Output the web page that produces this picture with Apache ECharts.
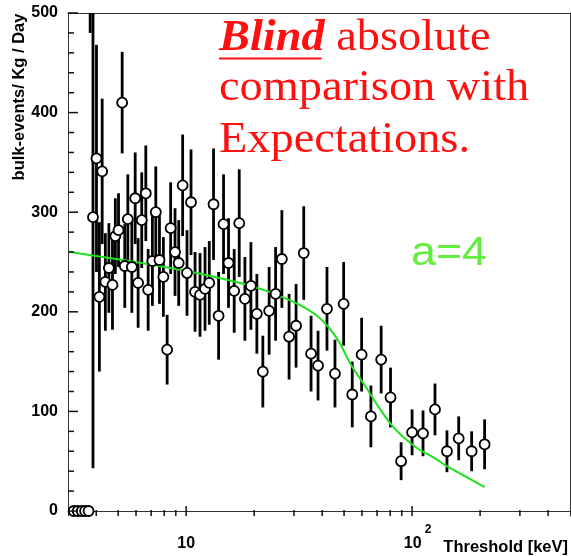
<!DOCTYPE html>
<html>
<head>
<meta charset="utf-8">
<script src="https://cdn.jsdelivr.net/npm/echarts@6/dist/echarts.min.js"></script>
<style>
  html, body { margin: 0; padding: 0; background: #fff; }
  #chart { width: 571px; height: 556px; }
</style>
</head>
<body>
<div id="chart"></div>
<script>
// Measured bulk-event rate per threshold bin (keV), with statistical errors
const thresholds = [3.18, 3.31, 3.45, 3.57, 3.70,
  3.76, 3.87, 4.01, 4.13, 4.25, 4.39, 4.55, 4.72, 4.86, 5.02, 5.21, 5.35, 5.52, 5.75, 5.95,
  6.13, 6.36, 6.63, 6.79, 7.09, 7.34, 7.62, 7.93, 8.24, 8.54, 8.93, 9.27, 9.65, 10.09, 10.51,
  10.95, 11.52, 12.12, 12.66, 13.22, 13.92, 14.64, 15.40, 16.32, 17.18, 18.20, 19.35, 20.56,
  21.85, 23.30, 24.89, 26.53, 28.55, 30.66, 33.15, 35.72, 38.35, 42.01, 45.58, 49.79, 54.35,
  59.80, 65.73, 72.98, 80.28, 89.42, 100.0, 111.8, 126.3, 142.7, 160.8, 183.5, 209.4];
const rates = [0, 0, 0, 0, 0,
  600, 295, 354, 215, 341, 230, 244, 227, 276, 282, 410, 246, 293, 245, 314,
  229, 292, 319, 222, 251, 300, 252, 235, 162, 284, 260, 249, 327, 239, 310,
  220, 217, 223, 229, 308, 196, 288, 249, 221, 289, 213, 226, 198,
  140, 201, 218, 253, 175, 186, 259, 158, 146, 203, 138, 208, 117,
  157, 95, 152, 114, 50, 79, 78, 102, 60, 73, 60, 67];
const errors = [0, 0, 0, 0, 0,
  120, 252, 114, 75, 73, 49, 45, 45, 38, 37, 51, 42, 45, 46, 46,
  45, 48, 48, 41, 45, 46, 44, 40, 35, 46, 44, 43, 51, 43, 53,
  40, 42, 42, 42, 56, 44, 50, 45, 42, 54, 42, 44, 40,
  36, 44, 47, 49, 43, 42, 47, 38, 35, 42, 34, 42, 33,
  37, 31, 34, 30, 19, 23, 23, 26, 21, 22, 20, 25];

// Expected rate for the a=4 model
const curveKeV = [3.0, 4.14, 5.61, 7.61, 10.33, 14.02, 19.01, 23.30, 28.55, 33.25, 37.96,
  42.88, 47.48, 54.18, 62.45, 71.29, 81.36, 93.80, 107.1, 126.0, 142.3, 172.7, 209.4];
const curveRate = [260.5, 255.5, 251, 246, 240.5, 234, 226.5, 220, 212, 204.5, 196,
  184, 170, 145, 124.5, 104, 86, 72, 62, 53, 45, 34.5, 24];

// Axis ticks
const xMajorTicks = [10, 100];
const xTickExponents = [1, 2];
const xMinorTicks = [4, 5, 6, 7, 8, 9, 20, 30, 40, 50, 60, 70, 80, 90, 200, 300, 400];
const yMajorTicks = [0, 100, 200, 300, 400, 500];
const yMinorTicks = [20, 40, 60, 80, 120, 140, 160, 180, 220, 240, 260, 280,
  320, 340, 360, 380, 420, 440, 460, 480];

const X_MIN = 3, X_MAX = 500, Y_MIN = -5, Y_MAX = 500;
const SANS = '"Liberation Sans", Arial, Helvetica, sans-serif';
const SERIF = '"Liberation Serif", "Times New Roman", serif';
const AXIS_COLOR = '#333';
const TICK_COLOR = '#111';
const MAJOR_LEN = 10, MINOR_LEN = 6;

const points = thresholds.map((x, i) => [x, rates[i], errors[i]]);
const curve = curveKeV.map((x, i) => [x, curveRate[i]]);

// tick marks pointing inward from the bottom and left frame lines
const xTickData = xMajorTicks.map(v => [v, Y_MIN, MAJOR_LEN])
  .concat(xMinorTicks.map(v => [v, Y_MIN, MINOR_LEN]));
const yTickData = yMajorTicks.map(v => [X_MIN, v, MAJOR_LEN])
  .concat(yMinorTicks.map(v => [X_MIN, v, MINOR_LEN]));

function measure(text, font) {
  const ctx = document.createElement('canvas').getContext('2d');
  ctx.font = font;
  return ctx.measureText(text).width;
}

const redSize = 45;
const redColor = '#ff1010';
const blindFont = 'italic bold ' + redSize + 'px ' + SERIF;
const blindWidth = measure('Blind', blindFont);
const spaceWidth = measure(' ', redSize + 'px ' + SERIF);

const chart = echarts.init(document.getElementById('chart'));

chart.setOption({
  animation: false,
  grid: { left: 68, top: 13, right: 1, bottom: 40 },
  xAxis: [{
    type: 'log', logBase: 10, min: X_MIN, max: X_MAX, position: 'bottom',
    axisLine: { show: true, lineStyle: { color: AXIS_COLOR, width: 1 } },
    axisTick: { show: false },
    axisLabel: {
      show: true, customValues: xMajorTicks, margin: 8, color: '#000',
      formatter: function (v) {
        const e = xTickExponents[xMajorTicks.indexOf(v)];
        return e === 1 ? '{b|10}' : '{c|10}{s|' + e + '}';
      },
      rich: {
        b: { fontFamily: SANS, fontWeight: 'bold', fontSize: 16, lineHeight: 40, color: '#000' },
        c: { fontFamily: SANS, fontWeight: 'bold', fontSize: 16, lineHeight: 40, color: '#000', padding: [0, 0, 0, 11] },
        s: { fontFamily: SANS, fontWeight: 'bold', fontSize: 12, lineHeight: 14, color: '#000', verticalAlign: 'top', padding: [0, 0, 0, 3] }
      }
    },
    splitLine: { show: false }, minorTick: { show: false }
  }, {
    // top frame line
    type: 'log', logBase: 10, min: X_MIN, max: X_MAX, position: 'top',
    axisLine: { show: true, onZero: false, lineStyle: { color: AXIS_COLOR, width: 1 } },
    axisTick: { show: false }, axisLabel: { show: false }, splitLine: { show: false }
  }],
  yAxis: [{
    type: 'value', min: Y_MIN, max: Y_MAX, position: 'left',
    axisLine: { show: true, onZero: false, lineStyle: { color: AXIS_COLOR, width: 1 } },
    axisTick: { show: false },
    axisLabel: { show: true, customValues: yMajorTicks, margin: 10, color: '#000',
      fontFamily: SANS, fontWeight: 'bold', fontSize: 16 },
    splitLine: { show: false }
  }, {
    // right frame line
    type: 'value', min: Y_MIN, max: Y_MAX, position: 'right',
    axisLine: { show: true, onZero: false, lineStyle: { color: AXIS_COLOR, width: 1 } },
    axisTick: { show: false }, axisLabel: { show: false }, splitLine: { show: false }
  }],
  series: [{
    // bottom-axis ticks
    type: 'custom', z: 10, data: xTickData,
    renderItem: function (params, api) {
      const p = api.coord([api.value(0), api.value(1)]);
      return { type: 'line', shape: { x1: p[0], y1: p[1], x2: p[0], y2: p[1] - api.value(2) },
        style: { stroke: TICK_COLOR, lineWidth: 1.5 } };
    }
  }, {
    // left-axis ticks
    type: 'custom', z: 10, data: yTickData,
    renderItem: function (params, api) {
      const p = api.coord([api.value(0), api.value(1)]);
      return { type: 'line', shape: { x1: p[0], y1: p[1], x2: p[0] + api.value(2), y2: p[1] },
        style: { stroke: TICK_COLOR, lineWidth: 1.5 } };
    }
  }, {
    // vertical error bars
    type: 'custom',
    clip: true,
    z: 2,
    data: points,
    renderItem: function (params, api) {
      const x = api.value(0), y = api.value(1), e = api.value(2);
      if (!e) return null;
      const lo = api.coord([x, y - e]);
      const hi = api.coord([x, y + e]);
      return {
        type: 'line',
        shape: { x1: lo[0], y1: lo[1], x2: hi[0], y2: hi[1] },
        style: { stroke: '#000', lineWidth: 2.8 }
      };
    }
  }, {
    type: 'line',
    z: 3,
    data: curve,
    showSymbol: false,
    smooth: 0.2,
    lineStyle: { color: '#1fe21f', width: 2 }
  }, {
    type: 'scatter',
    z: 4,
    clip: true,
    data: points,
    symbol: 'circle',
    symbolSize: 10,
    itemStyle: { color: '#fff', borderColor: '#000', borderWidth: 1.8, opacity: 1 }
  }],
  graphic: [{
    type: 'text', x: 19.5, y: 97, rotation: Math.PI / 2,
    style: { text: 'bulk-events/ Kg / Day', fontFamily: SANS, fontWeight: 'bold', fontSize: 16.5,
      fill: '#000', align: 'center', verticalAlign: 'middle' }
  }, {
    type: 'text', x: 568, y: 547,
    style: { text: 'Threshold [keV]', fontFamily: SANS, fontWeight: 'bold', fontSize: 16.5,
      fill: '#000', align: 'right', verticalAlign: 'middle' }
  }, {
    type: 'group', x: 219, y: 0, scaleX: 1.03,
    children: [{
      type: 'text', x: 0, y: 38,
      style: { text: 'Blind', font: blindFont, fill: redColor, align: 'left', verticalAlign: 'middle' }
    }, {
      type: 'rect', shape: { x: 0, y: 57.5, width: blindWidth - 3, height: 2 },
      style: { fill: redColor }
    }, {
      type: 'text', x: blindWidth + spaceWidth, y: 38,
      style: { text: 'absolute', fontFamily: SERIF, fontSize: redSize, fill: redColor, align: 'left', verticalAlign: 'middle' }
    }, {
      type: 'text', x: 0, y: 88,
      style: { text: 'comparison with', fontFamily: SERIF, fontSize: redSize, fill: redColor, align: 'left', verticalAlign: 'middle' }
    }, {
      type: 'text', x: 0, y: 140,
      style: { text: 'Expectations.', fontFamily: SERIF, fontSize: redSize, fill: redColor, align: 'left', verticalAlign: 'middle' }
    }]
  }, {
    type: 'text', x: 411, y: 254, scaleX: 1.12,
    style: { text: 'a=4', fontFamily: SANS, fontSize: 40, fill: '#62ee3c', align: 'left', verticalAlign: 'middle' }
  }]
});
</script>
</body>
</html>
